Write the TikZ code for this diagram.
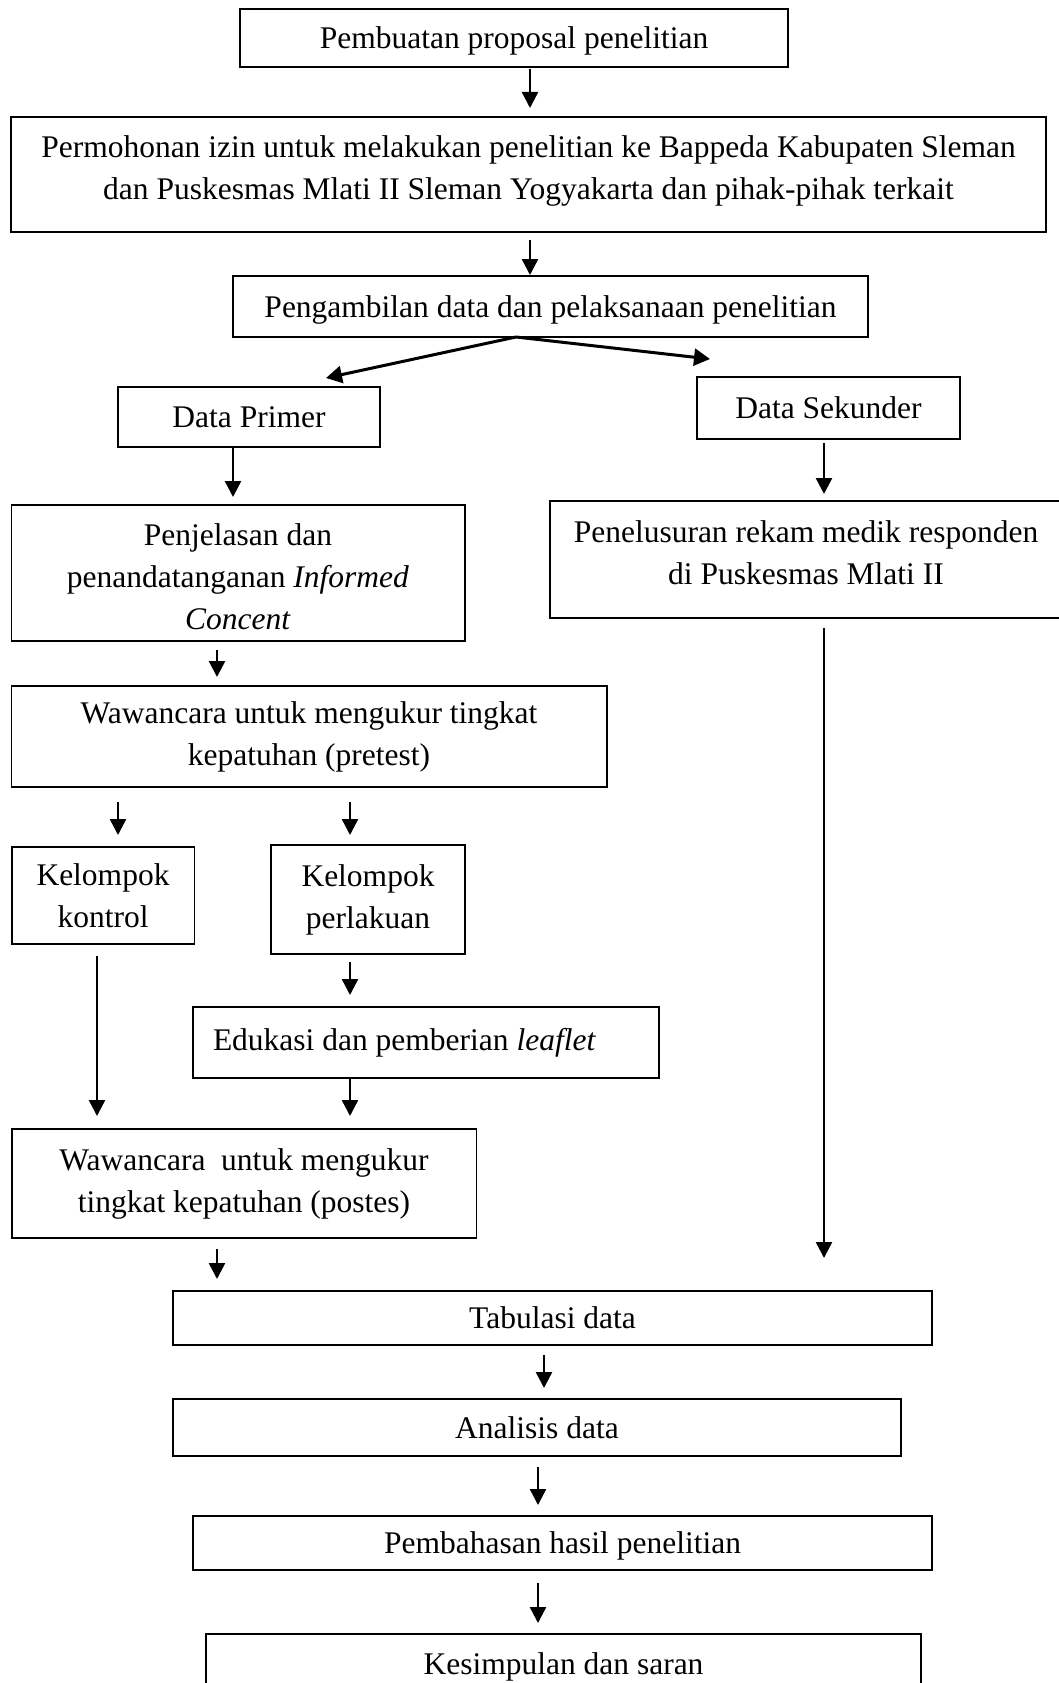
\documentclass[tikz,border=0pt]{standalone}
\usepackage{fontspec}
\setmainfont{Liberation Serif}
\usetikzlibrary{arrows.meta}
\begin{document}
\begin{tikzpicture}[x=1pt,y=-1pt,
  every node/.style={font=\fontsize{31.5}{42}\selectfont},
  boxn/.style={draw=black,line width=1.5pt,inner sep=0pt,align=center},
  nodesc/.style={text depth=0pt},
  arr/.style={line width=2.4pt,-{Triangle[length=16pt,width=16pt]}},
  barr/.style={line width=3pt,-{Triangle[length=16pt,width=17pt]}}]
\useasboundingbox[fill=white] (0,0) rectangle (1058,1683);

% boxes
\node[boxn,nodesc,minimum width=548pt,minimum height=58pt] (b1) at (514,38) {Pembuatan proposal penelitian};
\node[boxn,minimum width=1035pt,minimum height=115pt] (b2) at (528.5,174.5) {Permohonan izin untuk melakukan penelitian ke Bappeda Kabupaten Sleman\\dan Puskesmas Mlati II Sleman Yogyakarta dan pihak-pihak terkait\\[-28pt]};
\node[boxn,nodesc,minimum width=635pt,minimum height=61pt] (b3) at (550.5,306.5) {Pengambilan data dan pelaksanaan penelitian};
\node[boxn,minimum width=262pt,minimum height=60pt] (dp) at (249,417) {Data Primer};
\node[boxn,minimum width=263pt,minimum height=62pt] (ds) at (828.5,408) {Data Sekunder};
\node[boxn,minimum width=453.5pt,minimum height=136pt] (pj) at (238,573) {\\[-12pt]Penjelasan dan\\penandatanganan \textit{Informed}\\\textit{Concent}};
\node[boxn,minimum width=512pt,minimum height=117pt] (pn) at (806,559.5) {Penelusuran rekam medik responden\\di Puskesmas Mlati II\\[-29pt]};
\node[boxn,minimum width=595.5pt,minimum height=101pt] (wp) at (309,736.5) {Wawancara untuk mengukur tingkat\\kepatuhan (pretest)};
\node[boxn,minimum width=182.5pt,minimum height=97pt] (kk) at (103,895.5) {Kelompok\\kontrol};
\node[boxn,minimum width=194pt,minimum height=109pt] (kp) at (368,899.5) {Kelompok\\perlakuan};
\node[boxn,minimum width=466pt,minimum height=71pt] (ed) at (426,1042.5) {\makebox[426pt][l]{Edukasi dan pemberian \textit{leaflet}}};
\node[boxn,minimum width=464.5pt,minimum height=109pt] (wq) at (244,1183.5) {Wawancara\ \ untuk mengukur\\tingkat kepatuhan (postes)};
\node[boxn,minimum width=759pt,minimum height=54pt] (tb) at (552.5,1318) {Tabulasi data};
\node[boxn,minimum width=728pt,minimum height=57pt] (an) at (537,1427.5) {Analisis data};
\node[boxn,minimum width=739pt,minimum height=54pt,text depth=-5pt] (pb) at (562.5,1543) {Pembahasan hasil penelitian};
\node[boxn,minimum width=715pt,minimum height=66pt] (ks) at (563.5,1667) {Kesimpulan dan saran};

% arrow end points
\coordinate (a1s) at (530,69);   \coordinate (a1e) at (530,108);
\coordinate (a2s) at (530,240);  \coordinate (a2e) at (530,275);
\coordinate (brs) at (516,337);  \coordinate (brl) at (326,378); \coordinate (brr) at (710,359);
\coordinate (a4s) at (233,447);  \coordinate (a4e) at (233,497);
\coordinate (a5s) at (824,443);  \coordinate (a5e) at (824,494);
\coordinate (a6s) at (217,650);  \coordinate (a6e) at (217,677);
\coordinate (a7s) at (118,802);  \coordinate (a7e) at (118,835);
\coordinate (a8s) at (350,802);  \coordinate (a8e) at (350,835);
\coordinate (a9s) at (97,956);   \coordinate (a9e) at (97,1116);
\coordinate (a10s) at (350,962); \coordinate (a10e) at (350,995);
\coordinate (a11s) at (350,1078);\coordinate (a11e) at (350,1116);
\coordinate (a12s) at (824,628); \coordinate (a12e) at (824,1258);
\coordinate (a13s) at (217,1249);\coordinate (a13e) at (217,1279);
\coordinate (a14s) at (544,1355);\coordinate (a14e) at (544,1388);
\coordinate (a15s) at (538,1467);\coordinate (a15e) at (538,1505);
\coordinate (a16s) at (538,1583);\coordinate (a16e) at (538,1623);

\draw[arr] (a1s) -- (a1e);
\draw[arr] (a2s) -- (a2e);
\draw[barr] (brs) -- (brl);
\draw[barr] (brs) -- (brr);
\draw[arr] (a4s) -- (a4e);
\draw[arr] (a5s) -- (a5e);
\draw[arr] (a6s) -- (a6e);
\draw[arr] (a7s) -- (a7e);
\draw[arr] (a8s) -- (a8e);
\draw[arr] (a9s) -- (a9e);
\draw[arr] (a10s) -- (a10e);
\draw[arr] (a11s) -- (a11e);
\draw[arr] (a12s) -- (a12e);
\draw[arr] (a13s) -- (a13e);
\draw[arr] (a14s) -- (a14e);
\draw[arr] (a15s) -- (a15e);
\draw[arr] (a16s) -- (a16e);
\end{tikzpicture}
\end{document}
